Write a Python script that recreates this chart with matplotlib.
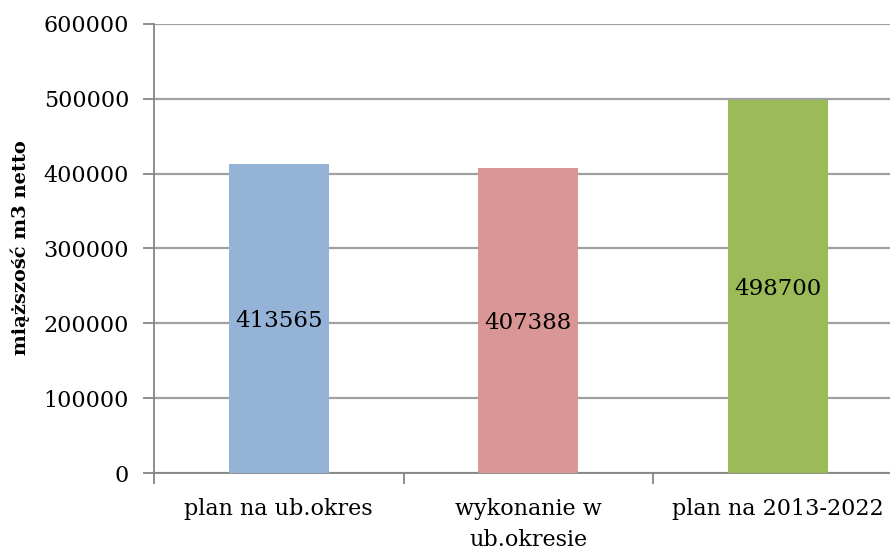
import matplotlib.pyplot as plt
import numpy as np

categories = ["plan na ub.okres", "wykonanie w\nub.okresie", "plan na 2013-2022"]
values = [413565, 407388, 498700]
colors = ["#95B3D7", "#D99694", "#9BBB59"]
yticks = [0, 100000, 200000, 300000, 400000, 500000, 600000]

plt.rcParams['font.family'] = ['DejaVu Serif']

fig = plt.figure(figsize=(8.9, 5.49), dpi=100)
ax = fig.add_axes([154 / 890, 76 / 549, 748.5 / 890, 449 / 549])

x = np.arange(len(categories)) + 0.5
bars = ax.bar(x, values, width=0.4, color=colors, zorder=3)

for b, v in zip(bars, values):
    ax.text(b.get_x() + b.get_width() / 2, v / 2, str(v),
            ha='center', va='center_baseline', fontsize=16.5, zorder=4)

ax.set_xlim(0, 3)
ax.set_ylim(0, 600000)
ax.set_yticks(yticks)
ax.set_yticklabels([str(t) for t in yticks], fontsize=16)
ax.yaxis.grid(True, color='#A0A0A0', linewidth=1.6, zorder=0)

# category boundaries carry the ticks, labels sit in the middle
ax.set_xticks([0, 1, 2, 3])
ax.set_xticklabels([])
ax.set_xticks(x, minor=True)
ax.set_xticklabels(categories, minor=True, fontsize=16, linespacing=1.55)
ax.tick_params(axis='x', which='minor', length=0, pad=18)
ax.tick_params(axis='x', which='major', length=8, width=1.3, color='#868686')
ax.tick_params(axis='y', length=8, width=1.3, color='#868686', pad=10)

for s in ['top', 'right']:
    ax.spines[s].set_visible(False)
for s in ['left', 'bottom']:
    ax.spines[s].set_color('#868686')
    ax.spines[s].set_linewidth(1.3)

fig.text(20 / 890, 1 - 248 / 549, "miąższość m3 netto", rotation=90,
         ha='center', va='center', fontsize=14, fontweight='bold')

fig.savefig("out.png", dpi=100)
